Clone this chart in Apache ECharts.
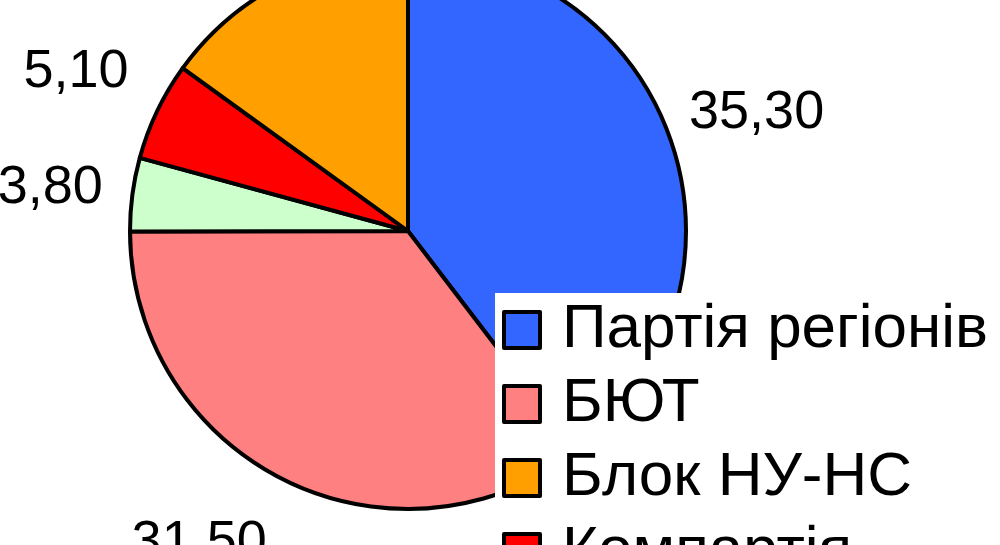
<!DOCTYPE html>
<html>
<head>
<meta charset="utf-8">
<script src="https://cdn.jsdelivr.net/npm/echarts@6/dist/echarts.min.js"></script>
<style>
html,body{margin:0;padding:0;background:#fff;}
#chart{width:1000px;height:545px;}
</style>
</head>
<body>
<div id="chart"></div>
<script>
// Slice order (clockwise from 12 o'clock)
var names = ['Партія регіонів', 'БЮТ', 'Блок Литвина', 'Компартія', 'Блок НУ-НС'];
var values = [35.30, 31.50, 3.80, 5.10, 13.40];
var colors = ['#3366FF', '#FF8080', '#CCFFCC', '#FF0000', '#FFA000'];
// Legend order
var legendNames = ['Партія регіонів', 'БЮТ', 'Блок НУ-НС', 'Компартія', 'Блок Литвина'];

var font = '"Liberation Sans", Arial, sans-serif';

var pieData = names.map(function (n, i) {
  return { name: n, value: values[i], itemStyle: { color: colors[i] } };
});
var labelData = names.map(function (n, i) {
  var d = { name: n, value: values[i] };
  if (n === 'БЮТ') d.label = { offset: [-46, -18] };
  if (n === 'Блок Литвина') d.label = { offset: [7, 6] };
  return d;
});

var chart = echarts.init(document.getElementById('chart'));
chart.setOption({
  backgroundColor: '#ffffff',
  animation: false,
  legend: {
    data: legendNames,
    orient: 'vertical',
    left: 495,
    top: 293,
    width: 600,
    height: 800,
    padding: [6, 10, 6, 7],
    backgroundColor: '#ffffff',
    itemWidth: 36,
    itemHeight: 36,
    itemGap: 12,
    icon: 'rect',
    itemStyle: { borderColor: '#000000', borderWidth: 4 },
    textStyle: {
      fontFamily: font,
      fontSize: 62,
      lineHeight: 62,
      color: '#000000',
      padding: [0, 0, 0, 17]
    },
    selectedMode: false
  },
  series: [
    {
      type: 'pie',
      center: [408, 231],
      radius: [0, 278],
      startAngle: 90,
      clockwise: true,
      label: { show: false },
      labelLine: { show: false },
      itemStyle: { borderColor: '#000000', borderWidth: 4 },
      emphasis: { disabled: true },
      data: pieData
    },
    {
      type: 'pie',
      center: [408, 231],
      radius: [320, 410],
      startAngle: 90,
      clockwise: true,
      silent: true,
      legendHoverLink: false,
      itemStyle: { color: 'transparent', borderWidth: 0 },
      label: {
        show: true,
        position: 'inside',
        fontFamily: font,
        fontSize: 54,
        color: '#000000',
        formatter: function (p) { return p.value.toFixed(2).replace('.', ','); }
      },
      labelLine: { show: false },
      emphasis: { disabled: true },
      data: labelData
    }
  ]
});
</script>
</body>
</html>
